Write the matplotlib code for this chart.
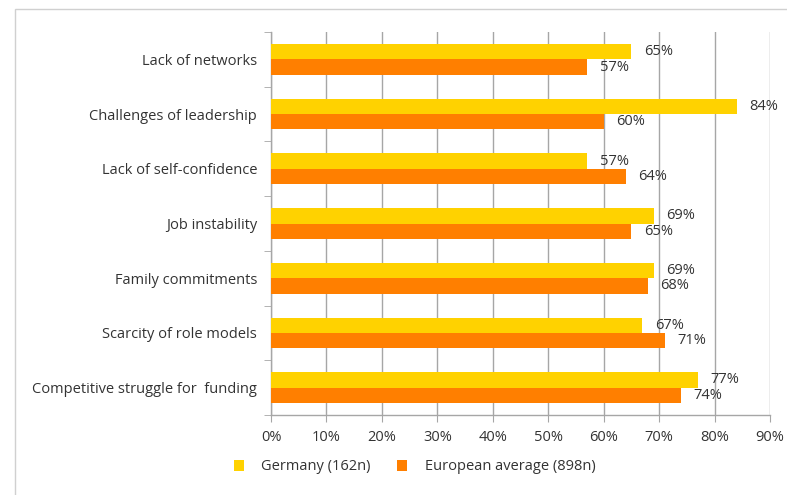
import matplotlib
matplotlib.use("Agg")
from matplotlib import pyplot as plt
from matplotlib.patches import Rectangle
import numpy as np

categories = ["Lack of networks", "Challenges of leadership", "Lack of self-confidence",
              "Job instability", "Family commitments", "Scarcity of role models",
              "Competitive struggle for  funding"]
germany = [65, 84, 57, 69, 69, 67, 77]
europe = [57, 60, 64, 65, 68, 71, 74]
series_names = ["Germany (162n)", "European average (898n)"]
xticks = [0, 10, 20, 30, 40, 50, 60, 70, 80, 90]

plt.rcParams['font.family'] = ['Open Sans', 'DejaVu Sans']
text_col = '#333333'
grid_col = '#a6a6a6'
yellow = '#ffd200'
orange = '#ff7f00'

fig = plt.figure(figsize=(7.87, 4.95), dpi=100)
# light frame around the chart area
fig.patches.append(Rectangle((15 / 787, -0.1), 1.2, 1 - 9 / 495 + 0.1, transform=fig.transFigure,
                             fill=False, edgecolor='#d0d0d0', lw=1.0))
ax = fig.add_axes([271 / 787, 1 - 415 / 495, (770 - 271) / 787, (415 - 32) / 495])

y = np.arange(len(categories))
h = 0.28
ax.barh(y - h / 2, germany, height=h, color=yellow, label=series_names[0], zorder=3)
ax.barh(y + h / 2, europe, height=h, color=orange, label=series_names[1], zorder=3)

for i in range(len(categories)):
    ax.annotate(f"{germany[i]}%", (germany[i], y[i] - h / 2), xytext=(9, 0),
                textcoords='offset points', va='center', ha='left', fontsize=10.5, color=text_col)
    ax.annotate(f"{europe[i]}%", (europe[i], y[i] + h / 2), xytext=(9, 0),
                textcoords='offset points', va='center', ha='left', fontsize=10.5, color=text_col)

ax.set_xlim(0, 90)
ax.set_ylim(len(categories) - 0.5, -0.5)
ax.set_xticks(xticks)
ax.set_xticklabels([f"{t}%" for t in xticks], fontsize=10.5, color=text_col)
ax.set_yticks(y)
ax.set_yticklabels(categories, fontsize=10.5, color=text_col)
ax.tick_params(axis='y', length=0, pad=10)
ax.set_yticks(np.arange(len(categories) + 1) - 0.5, minor=True)
ax.tick_params(axis='y', which='minor', length=5, color=grid_col, direction='out')
ax.tick_params(axis='x', length=5, color=grid_col, direction='out', pad=6)

ax.grid(axis='x', color=grid_col, lw=1.0, zorder=0)
for s in ['top', 'right']:
    ax.spines[s].set_visible(False)
for s in ['left', 'bottom']:
    ax.spines[s].set_color(grid_col)
    ax.spines[s].set_linewidth(1.0)

leg = fig.legend(loc='center', bbox_to_anchor=(0.527, 1 - 467 / 495), ncol=2, frameon=False,
                 fontsize=10.5, handlelength=0.7, handleheight=0.7, handletextpad=1.2,
                 columnspacing=1.8)
for t in leg.get_texts():
    t.set_color(text_col)

fig.savefig("out.png", dpi=100)
